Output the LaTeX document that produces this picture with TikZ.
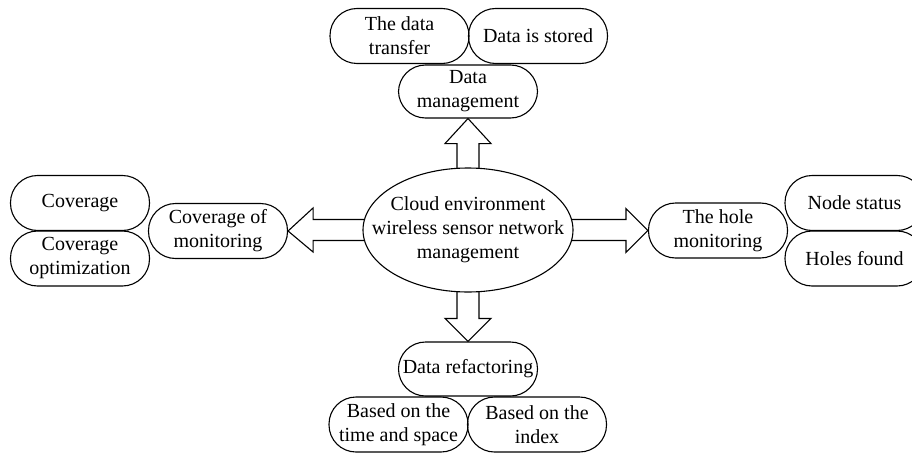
\documentclass[tikz,border=0pt]{standalone}
\usepackage{fontspec}
\setmainfont{Liberation Serif}
\usetikzlibrary{calc,shapes.geometric}
\begin{document}
\begin{tikzpicture}[x=1pt,y=-1pt, line width=1.1pt,
  txt/.style={align=center, font=\fontsize{20}{24}\selectfont},
  box/.style={draw, txt, rounded corners=27pt, minimum width=139pt, minimum height=55pt, inner sep=0pt},
  arr/.style={draw, line join=miter}]
\useasboundingbox (0,0) rectangle (912,452);
\clip (0,0) rectangle (912,452);
% top
\node[box] (tr) at (399.5,36) {The data\\transfer};
\node[box] (st) at (538,36) {Data is stored};
\node[box, minimum height=53pt] (dm) at (468,91.5) {Data\\management};
% centre
\node[draw, ellipse, minimum width=210pt, minimum height=124pt, inner sep=0pt] (cl) at (468,230) {};
\node[txt] (clt) at (cl.center) {Cloud environment\\wireless sensor network\\management};
% left
\node[box] (cm) at (218,231) {Coverage of\\monitoring};
\node[box] (cv) at (80,203) {Coverage};
\node[box] (co) at (80,258.5) {Coverage\\optimization};
% right
\node[box] (hm) at (718,230.5) {The hole\\monitoring};
\node[box] (ns) at (854.5,203) {Node status};
\node[box] (hf) at (854.5,258.5) {Holes found};
% bottom
\node[box, minimum height=54pt] (dr) at (468,369) {Data refactoring};
\node[box] (bt) at (398.5,424.5) {Based on the\\time and space};
\node[box] (bi) at (537,424.5) {Based on the\\index};
% block arrows
\draw[arr] ($(cl.north)+(-11,0.5)$) -- ($(dm.south)+(-11,25)$) -- ($(dm.south)+(-23,25)$) -- (dm.south)
  -- ($(dm.south)+(23,25)$) -- ($(dm.south)+(11,25)$) -- ($(cl.north)+(11,0.5)$);
\draw[arr] ($(cl.south)+(-11,-0.5)$) -- ($(dr.north)+(-11,-23)$) -- ($(dr.north)+(-23,-23)$) -- (dr.north)
  -- ($(dr.north)+(23,-23)$) -- ($(dr.north)+(11,-23)$) -- ($(cl.south)+(11,-0.5)$);
\draw[arr] ($(cl.west)+(1.5,-10.5)$) -- ($(cm.east)+(25,-11.5)$) -- ($(cm.east)+(25,-23)$) -- (cm.east)
  -- ($(cm.east)+(25,21)$) -- ($(cm.east)+(25,9.5)$) -- ($(cl.west)+(1.5,10.5)$);
\draw[arr] ($(cl.east)+(-1.5,-10.5)$) -- ($(hm.west)+(-22,-11)$) -- ($(hm.west)+(-22,-22)$) -- (hm.west)
  -- ($(hm.west)+(-22,22)$) -- ($(hm.west)+(-22,10)$) -- ($(cl.east)+(-1.5,10.5)$);
\end{tikzpicture}
\end{document}
